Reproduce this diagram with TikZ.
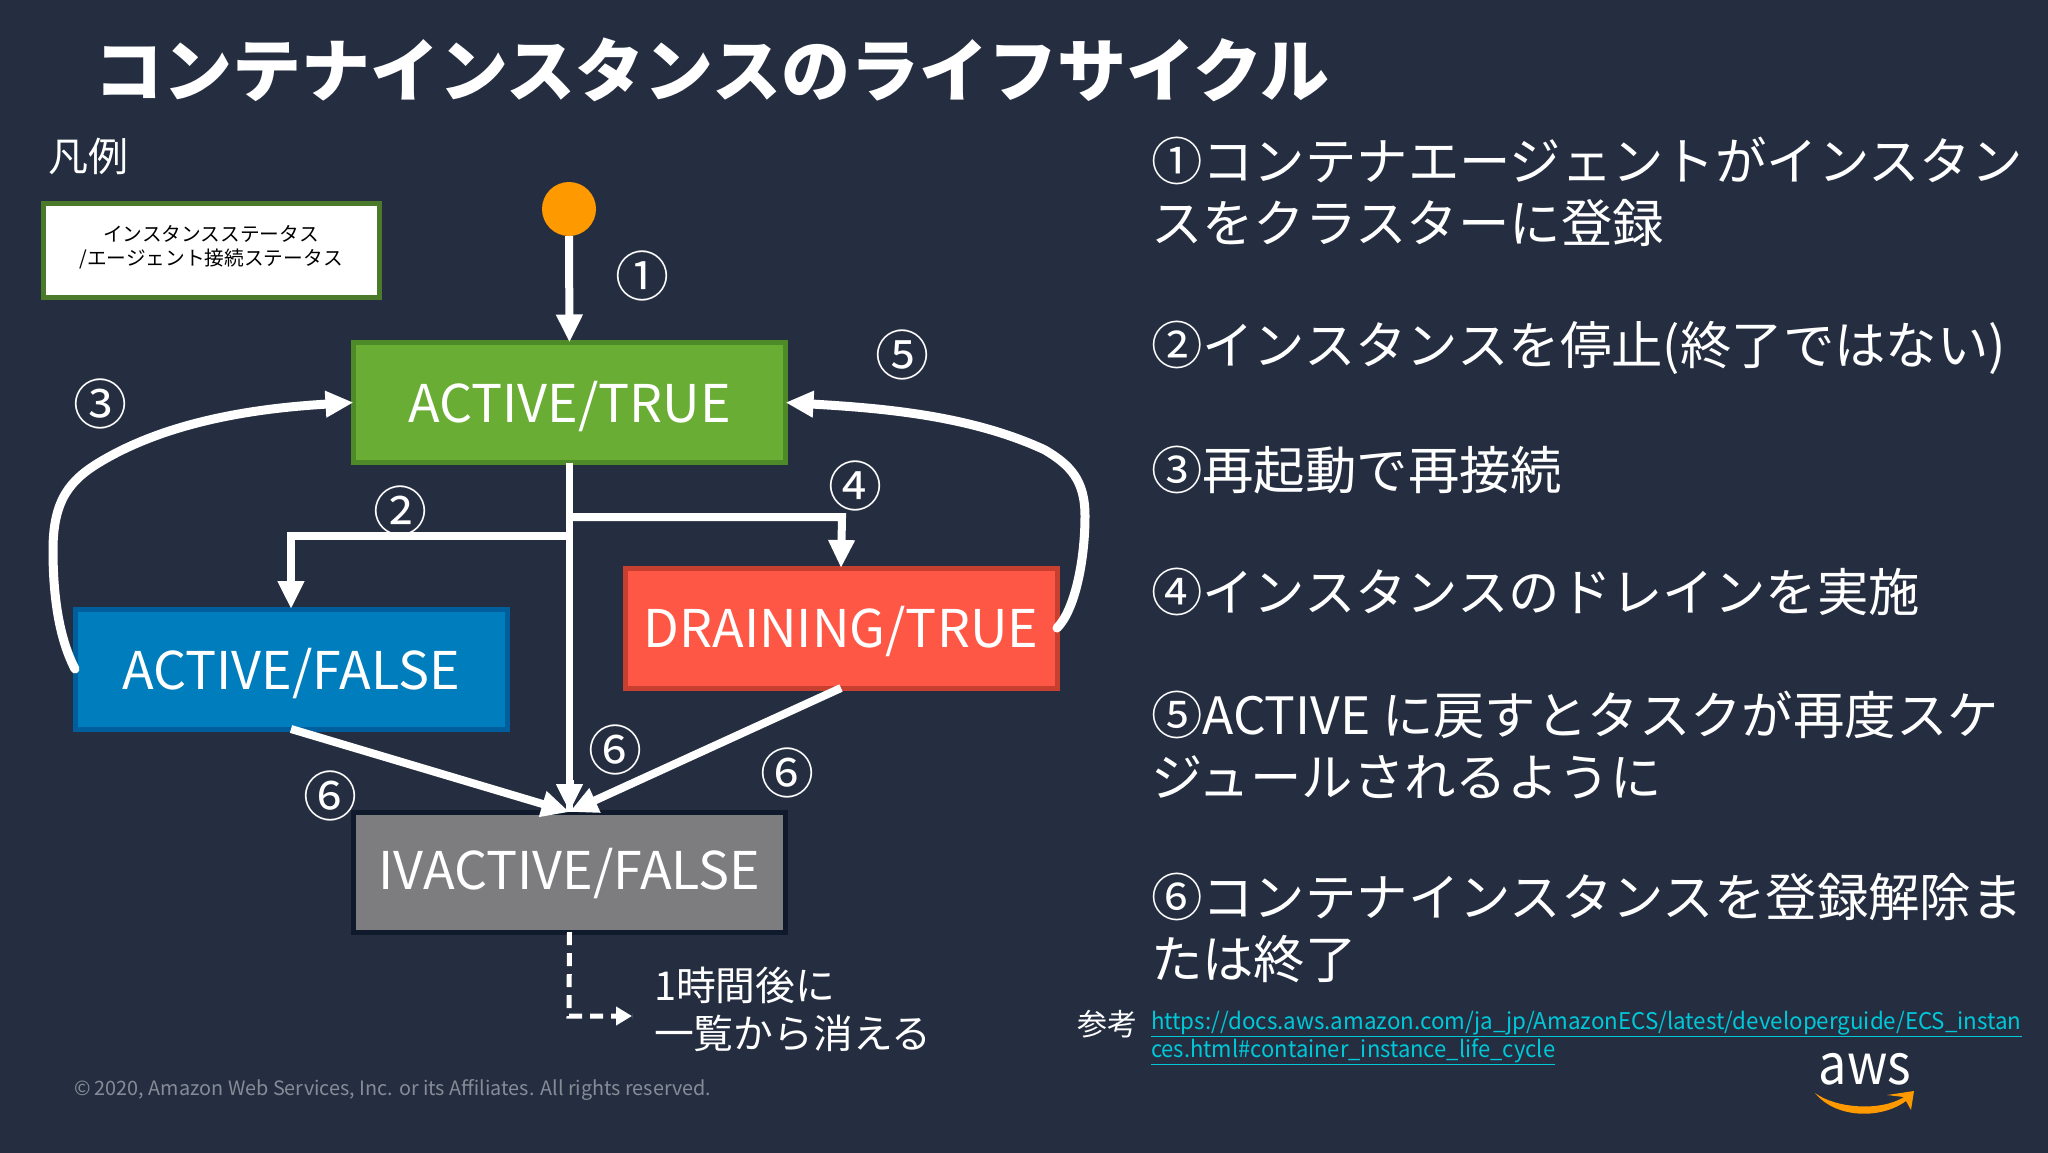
\documentclass[tikz,border=0pt]{standalone}
\usepackage{fontspec}
\setmainfont{Noto Sans CJK JP}
\usetikzlibrary{arrows.meta}
\definecolor{bgc}{HTML}{252E40}
\definecolor{grnf}{HTML}{6AAD35}
\definecolor{grnb}{HTML}{4E8A28}
\definecolor{legb}{HTML}{4A7A2A}
\definecolor{bluf}{HTML}{007DBC}
\definecolor{blub}{HTML}{005E9C}
\definecolor{redf}{HTML}{FF5745}
\definecolor{redb}{HTML}{C7402F}
\definecolor{gryf}{HTML}{7D7D7F}
\definecolor{gryb}{HTML}{0F1B2D}
\definecolor{orng}{HTML}{FF9900}
\definecolor{linkc}{HTML}{00C8D8}
\definecolor{copyc}{HTML}{868C97}
\newcommand{\fs}[2]{\fontsize{#1}{#2}\selectfont}
\newcommand{\lbl}[2]{\raisebox{#1}[0pt][0pt]{#2}}
\tikzset{
  x=1pt,y=-1pt,
  every node/.style={inner sep=0pt,outer sep=0pt},
  statebox/.style={draw,line width=5pt,minimum width=432pt,minimum height=120pt,text=white,font=\fs{52}{52}},
  desc/.style={anchor=west,align=left,text=white,font=\fs{51.4}{62}},
  num/.style={text=white,font=\fs{54}{54}},
  conn/.style={draw=white,line width=8pt,-{Triangle[width=25pt,length=28pt]}},
  curvec/.style={draw=white,line width=9pt,line cap=round,-{Triangle[width=25pt,length=28pt]}},
  plainc/.style={draw=white,line width=7pt},
}
\begin{document}
\begin{tikzpicture}
\useasboundingbox (0,0) rectangle (2048,1152);
\fill[bgc] (-3,-3) rectangle (2052,1156);
\node[anchor=west,text=white,font=\fs{69}{69}\bfseries] (title) at (94,70) {コンテナインスタンスのライフサイクル};
\node[anchor=west,text=white,font=\fs{40}{40}] (legendt) at (48,156) {凡例};
\node[draw=legb,fill=white,line width=5pt,minimum width=336pt,minimum height=94pt] (legend) at (211,250) {};
\node[align=center,text=black,font=\fs{19.7}{23.5}] (legendtxt) at (211,247) {インスタンスステータス\\/エージェント接続ステータス};

\node[circle,fill=orng,minimum size=54pt] (start) at (569,209) {};
\node[statebox,draw=grnb,fill=grnf] (at) at (569.5,402.5) {\lbl{-20pt}{ACTIVE/TRUE}};
\node[statebox,draw=blub,fill=bluf] (af) at (291,669) {\lbl{-20pt}{ACTIVE/FALSE}};
\node[statebox,draw=redb,fill=redf] (dr) at (841,628) {\lbl{-19pt}{DRAINING/TRUE}};
\node[statebox,draw=gryb,fill=gryf] (ia) at (569.5,872) {\lbl{-17pt}{IVACTIVE/FALSE}};

\coordinate (j2) at (569,536);
\coordinate (c2) at (291,536);
\coordinate (j4) at (569,517);
\coordinate (c4) at (842,517);
\coordinate (dc) at (569,1016);
\coordinate (dend) at (632,1016);

\draw[conn] (start.south) -- (at.north);
\draw[plainc] (at.south) -- (ia.north);
\draw[conn] (j2) -- (c2) -- (af.north);
\draw[conn] (j4) -- (c4) -- (dr.north);
\draw[conn] (ia.north |- 0,780) -- (ia.north);
\draw[conn] (af.south) -- (ia.north);
\draw[conn] (dr.south) -- (ia.north);
\draw[curvec] (af.west) .. controls (60,640) and (53,600) .. (53,550) .. controls (53,500) and (70,480) .. (100,462) .. controls (170,420) and (260,408) .. (at.west);
\draw[curvec] (dr.east) .. controls (1075,610) and (1085,560) .. (1085,516) .. controls (1085,480) and (1070,465) .. (1045,450) .. controls (970,415) and (880,408) .. (at.east);
\draw[draw=white,line width=5pt,dash pattern=on 13pt off 8pt] (ia.south) -- (dc) -- (dend);
\draw[draw=white,line width=5pt,-{Triangle[width=18pt,length=16pt]}] (616,1016) -- (dend);

\node[num] (n1) at (642,276) {①};
\node[num] (n5) at (902,355) {⑤};
\node[num] (n3) at (100,404) {③};
\node[num] (n2) at (400,511) {②};
\node[num] (n4) at (855,486) {④};
\node[num] (n6a) at (615,750) {⑥};
\node[num] (n6b) at (787,773) {⑥};
\node[num] (n6c) at (330,796) {⑥};

\node[anchor=west,align=left,text=white,font=\fs{39.8}{48}] (gone) at (654,1009) {1時間後に\\一覧から消える};

\node[desc] (d1) at (1151,192) {①コンテナエージェントがインスタン\\スをクラスターに登録};
\node[desc] (d2) at (1151,348) {②インスタンスを停止(終了ではない)};
\node[desc] (d3) at (1151,470) {③再起動で再接続};
\node[desc] (d4) at (1151,592) {④インスタンスのドレインを実施};
\node[desc] (d5) at (1151,745) {⑤ACTIVE に戻すとタスクが再度スケ\\ジュールされるように};
\node[desc] (d6) at (1151,928) {⑥コンテナインスタンスを登録解除ま\\たは終了};

\node[anchor=west,text=white,font=\fs{30}{30}] (ref) at (1077,1024) {参考};
\node[anchor=west,text=linkc,font=\fs{23}{23},xscale=0.972] (l1) at (1151,1024) {\underline{https://docs.aws.amazon.com/ja\_jp/AmazonECS/latest/developerguide/ECS\_instan}};
\node[anchor=west,text=linkc,font=\fs{23}{23},xscale=0.957] (l2) at (1151,1052) {\underline{ces.html\#container\_instance\_life\_cycle}};

\node[anchor=west,text=copyc,font=\fs{19.8}{20}] (copy) at (74,1090) {© 2020, Amazon Web Services, Inc. or its Affiliates. All rights reserved.};

\node[text=white,font=\fs{56}{56},xscale=0.9] (aws) at (1865,1069) {aws};
\fill[orng] (1815,1093) .. controls (1835,1108) and (1880,1112) .. (1904,1097) -- (1887,1095) -- (1914,1091) -- (1911,1110) -- (1906,1101) .. controls (1880,1120) and (1835,1118) .. (1815,1093) -- cycle;
\end{tikzpicture}
\end{document}
